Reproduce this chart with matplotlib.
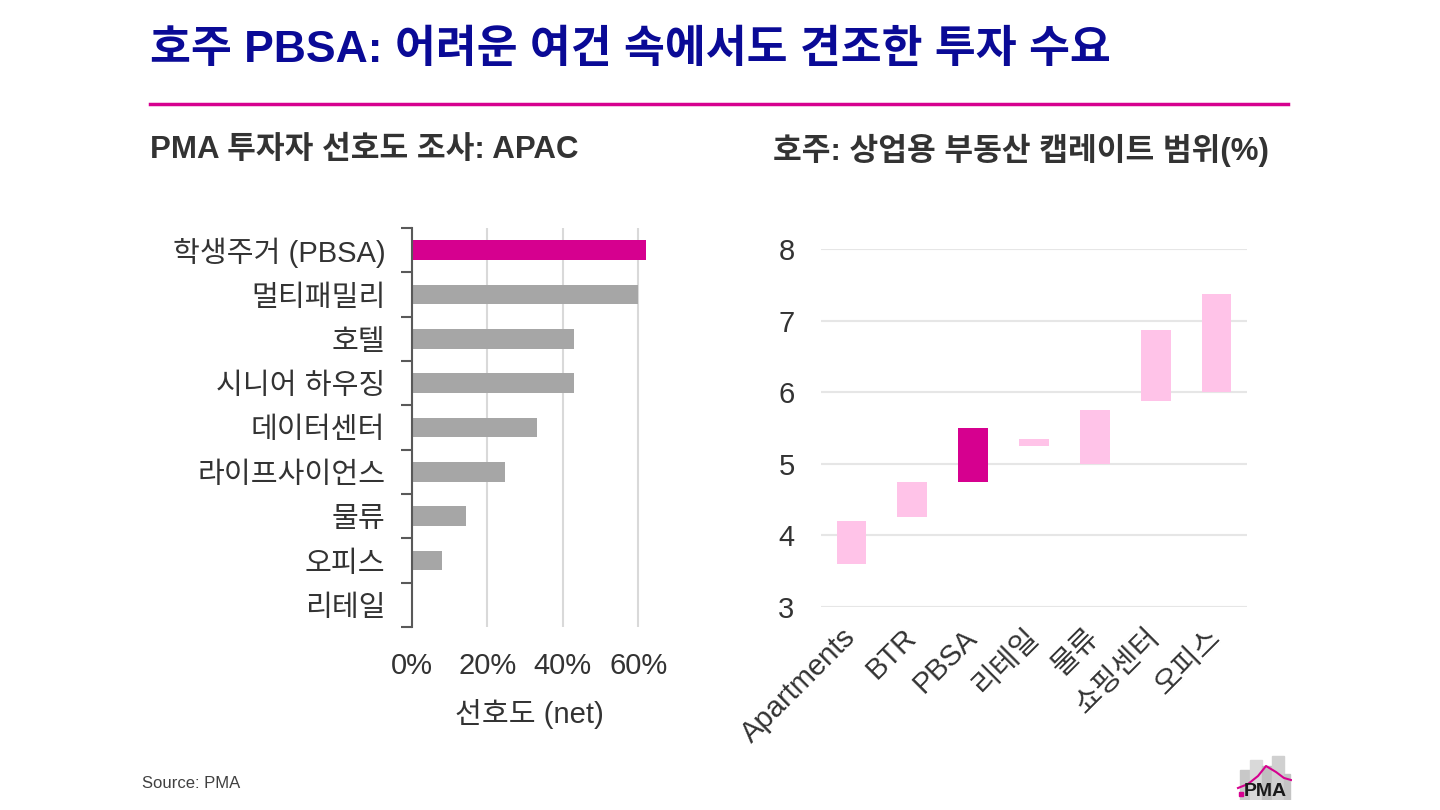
import matplotlib
matplotlib.use("Agg")
import matplotlib.pyplot as plt
from matplotlib.patches import Rectangle
from matplotlib.lines import Line2D

plt.rcParams['font.family'] = ['Liberation Sans', 'Noto Sans CJK KR', 'DejaVu Sans']

# ---- data ----
title = "호주 PBSA: 어려운 여건 속에서도 견조한 투자 수요"
left_title = "PMA 투자자 선호도 조사: APAC"
right_title = "호주: 상업용 부동산 캡레이트 범위(%)"

pref_categories = ["학생주거 (PBSA)", "멀티패밀리", "호텔", "시니어 하우징", "데이터센터",
                   "라이프사이언스", "물류", "오피스", "리테일"]
pref_values = [0.62, 0.60, 0.43, 0.43, 0.332, 0.248, 0.145, 0.081, 0.0]
pref_ticks = [0.0, 0.2, 0.4, 0.6]
pref_ticklabels = ["0%", "20%", "40%", "60%"]

cap_categories = ["Apartments", "BTR", "PBSA", "리테일", "물류", "쇼핑센터", "오피스"]
cap_low = [3.6, 4.25, 4.75, 5.25, 5.0, 5.875, 6.0]
cap_high = [4.2, 4.75, 5.5, 5.35, 5.75, 6.875, 7.375]
cap_ticks = [3, 4, 5, 6, 7, 8]

MAGENTA = "#D6008F"
PINK = "#FFC3E8"
GRAY = "#A6A6A6"
TEXT = "#333333"

fig = plt.figure(figsize=(14.4, 8.1), dpi=100)
W, H = 1440, 810

def fx(px): return px / W
def fy(py): return 1 - py / H

# title
fig.text(fx(150), fy(50), title, fontsize=32, fontweight='bold', color="#0A0A96",
         ha='left', va='center')
fig.add_artist(Line2D([fx(150), fx(1288)], [fy(104), fy(104)], color=MAGENTA, lw=2.5))
fig.text(fx(150), fy(150), left_title, fontsize=22.5, fontweight='bold', color=TEXT,
         ha='left', va='center')
fig.text(fx(773), fy(150), right_title, fontsize=22.5, fontweight='bold', color=TEXT,
         ha='left', va='center')
fig.text(fx(142), fy(783), "Source: PMA", fontsize=12, color="#404040", ha='left', va='center')

# ---- left chart ----
axL = fig.add_axes([fx(411.7), fy(627), fx(648 - 411.7), (627 - 228) / H])
ypos = list(range(len(pref_categories)))
colors = [MAGENTA] + [GRAY] * (len(pref_categories) - 1)
axL.barh(ypos, pref_values, height=0.445, color=colors, zorder=3)
axL.set_ylim(len(pref_categories) - 0.5, -0.5)
axL.set_xlim(0, 0.626)
axL.set_xticks(pref_ticks)
axL.set_xticklabels(pref_ticklabels)
axL.set_yticks(ypos)
axL.set_yticklabels(pref_categories)
axL.set_yticks([i - 0.5 for i in range(len(pref_categories) + 1)], minor=True)
axL.tick_params(axis='y', which='major', length=0, pad=19, labelsize=21, labelcolor=TEXT)
axL.tick_params(axis='y', which='minor', length=8, width=1.5, color="#595959", direction='out')
axL.tick_params(axis='x', which='major', length=0, pad=18, labelsize=21, labelcolor=TEXT)
axL.xaxis.grid(True, color="#D9D9D9", lw=1.5, zorder=0)
axL.set_axisbelow(True)
for s in ['top', 'right', 'bottom']:
    axL.spines[s].set_visible(False)
axL.spines['left'].set_color("#595959")
axL.spines['left'].set_linewidth(1.5)
axL.spines['left'].set_zorder(4)
axL.set_xlabel("선호도 (net)", fontsize=21, color=TEXT, labelpad=14)

# ---- right chart ----
axR = fig.add_axes([fx(821), fy(606.7), fx(1247 - 821), (606.7 - 249.3) / H])
xpos = list(range(len(cap_categories)))
heights = [h - l for l, h in zip(cap_low, cap_high)]
rcolors = [MAGENTA if c == "PBSA" else PINK for c in cap_categories]
axR.bar(xpos, heights, bottom=cap_low, width=0.49, color=rcolors, zorder=3)
axR.set_xlim(-0.5, len(cap_categories) - 0.5)
axR.set_ylim(3, 8)
axR.set_yticks(cap_ticks)
axR.set_xticks(xpos)
axR.set_xticklabels(cap_categories, rotation=45, ha='right', va='center',
                    rotation_mode='anchor')
axR.tick_params(axis='y', length=0, pad=19, labelsize=21, labelcolor=TEXT)
axR.tick_params(axis='x', length=0, pad=19, labelsize=21, labelcolor=TEXT)
axR.yaxis.grid(True, color="#E6E6E6", lw=1.5, zorder=0)
axR.set_axisbelow(True)
for s in axR.spines.values():
    s.set_visible(False)

# ---- logo ----
axLogo = fig.add_axes([fx(1236), fy(800), fx(56), 50 / H])
axLogo.set_xlim(0, 56)
axLogo.set_ylim(0, 50)
axLogo.axis('off')
for (x0, w, h, c) in [(4, 10, 30, "#C8C8C8"), (14, 12, 40, "#D9D9D9"), (26, 10, 34, "#BFBFBF"),
                      (36, 12, 44, "#D0D0D0"), (48, 6, 26, "#C4C4C4")]:
    axLogo.add_patch(Rectangle((x0, 0), w, h, color=c, zorder=1))
axLogo.plot([2, 12, 22, 30, 40, 48, 55], [12, 16, 24, 34, 28, 22, 20], color=MAGENTA, lw=1.5, zorder=2)
axLogo.text(29, 9, "PMA", fontsize=14, fontweight='bold', color="#1A1A1A", ha='center', va='center', zorder=3)
axLogo.plot([5], [6], marker='s', ms=2.5, color=MAGENTA, zorder=3)

fig.savefig("out.png", dpi=100)
